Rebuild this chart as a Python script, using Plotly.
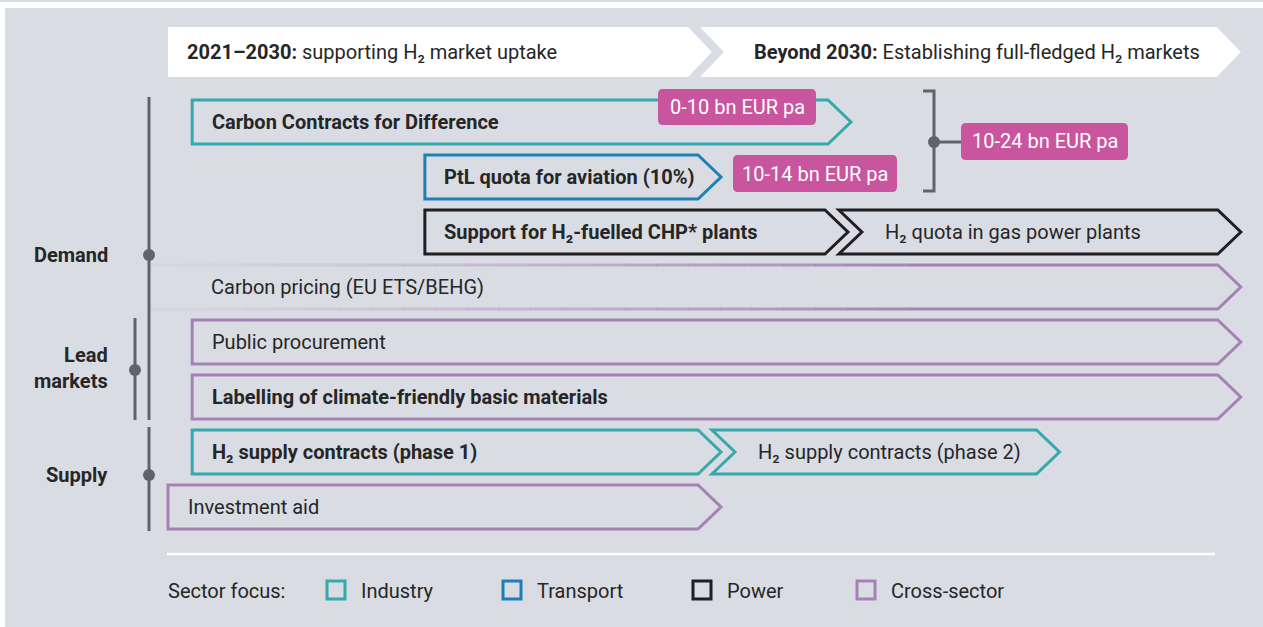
import plotly.graph_objects as go

W, H = 1263, 627
PX_PER_YEAR = 60.44
PX_PER_ROW = 55.0

# ---------------- data ----------------
phase_bold = ["2021–2030:", "Beyond 2030:"]
phase_text = [" supporting H₂ market uptake", " Establishing full-fledged H₂ markets"]
phase_start = [2021.0, 2029.8]
phase_end = [2030.0, 2038.75]

measure_labels = [
    "Carbon Contracts for Difference",
    "PtL quota for aviation (10%)",
    "Support for H₂-fuelled CHP* plants",
    "H₂ quota in gas power plants",
    "Carbon pricing (EU ETS/BEHG)",
    "Public procurement",
    "Labelling of climate-friendly basic materials",
    "H₂ supply contracts (phase 1)",
    "H₂ supply contracts (phase 2)",
    "Investment aid",
]
measure_row = [0, 1, 2, 2, 3, 4, 5, 6, 6, 7]
measure_start = [2021.4, 2025.25, 2025.25, 2032.1, 2020.7, 2021.4, 2021.4, 2021.4, 2030.0, 2021.0]
measure_end = [2032.3, 2030.15, 2032.25, 2038.75, 2038.75, 2038.75, 2038.75, 2030.15, 2035.75, 2030.15]
measure_sector = ["Industry", "Transport", "Power", "Power", "Cross-sector", "Cross-sector",
                  "Cross-sector", "Industry", "Industry", "Cross-sector"]
measure_bold = [True, True, True, False, False, False, True, True, False, False]
measure_follow_on = [False, False, False, True, False, False, False, False, True, False]
measure_fade_in = [False, False, False, False, True, False, False, False, False, False]

cost_labels = ["0-10 bn EUR pa", "10-14 bn EUR pa", "10-24 bn EUR pa"]

groups = ["Demand", "Lead<br>markets", "Supply"]

sectors = ["Industry", "Transport", "Power", "Cross-sector"]
sector_colors = {"Industry": "#35A9AC", "Transport": "#1D80B8", "Power": "#231F20", "Cross-sector": "#A681B6"}

# ---------------- styling ----------------
BG = "#D9DCE3"
TXT = "#262626"
GREY = "#626365"
PINK = "#C9559F"
FONT = "Roboto"
FS = 20

X_MIN = 2021.0 - 168 / PX_PER_YEAR
X_MAX = X_MIN + W / PX_PER_YEAR
Y_MIN = -122 / PX_PER_ROW
Y_MAX = Y_MIN + H / PX_PER_ROW


def dx(px):
    return px / PX_PER_YEAR


def dy(px):
    return px / PX_PER_ROW


def pxx(px):
    return px / W


def pyy(py):
    return 1 - py / H


shapes = []
annotations = []

# background
shapes.append(dict(type="rect", xref="paper", yref="paper", x0=pxx(5), x1=1, y0=0, y1=pyy(8),
                   fillcolor=BG, line=dict(width=0), layer="below"))
shapes.append(dict(type="rect", xref="paper", yref="paper", x0=0, x1=1, y0=pyy(2), y1=1,
                   fillcolor=BG, line=dict(width=0), layer="below"))


def chevron_path(x0, x1, yc, hh, depth, notch, open_left=False):
    xr = x1 - depth
    p = f"M {x0},{yc-hh} L {xr},{yc-hh} L {x1},{yc} L {xr},{yc+hh} L {x0},{yc+hh}"
    if open_left:
        return p
    if notch:
        p += f" L {x0+depth},{yc}"
    return p + " Z"


# phase header chevrons
hy = dy(52 - 122)
for i in range(2):
    shapes.append(dict(type="path", xref="x", yref="y",
                       path=chevron_path(phase_start[i], phase_end[i], hy, dy(25), dx(24), i > 0),
                       fillcolor="white", line=dict(width=0)))
    tx = phase_start[i] + (dx(52) if i > 0 else dx(17))
    annotations.append(dict(x=tx, y=hy, xref="x", yref="y", xanchor="left", yanchor="middle",
                            text=f"<b>{phase_bold[i]}</b>{phase_text[i]}", showarrow=False,
                            font=dict(family=FONT, size=FS, color=TXT)))

# measures
HH = dy(22)
DEPTH = dx(23)
for i, lab in enumerate(measure_labels):
    col = sector_colors[measure_sector[i]]
    yc = measure_row[i]
    x0, x1 = measure_start[i], measure_end[i]
    if measure_fade_in[i]:
        solid_from = x0 + dx(760)
        shapes.append(dict(type="path", xref="x", yref="y",
                           path=chevron_path(solid_from, x1, yc, HH, DEPTH, False, open_left=True),
                           line=dict(color=col, width=3)))
        n = 24
        step = (solid_from - x0) / n
        for k in range(n):
            a = 0.04 + 0.9 * ((k + 1) / n) ** 1.3
            for yy in (yc - HH, yc + HH):
                shapes.append(dict(type="line", xref="x", yref="y", x0=x0 + k * step, x1=x0 + (k + 1) * step + 0.01,
                                   y0=yy, y1=yy, line=dict(color=col, width=3), opacity=a))
        tx = 2021.4 + dx(17)
    elif measure_follow_on[i]:
        shapes.append(dict(type="path", xref="x", yref="y",
                           path=chevron_path(x0, x1, yc, HH, DEPTH, True),
                           line=dict(color=col, width=3)))
        tx = x0 + dx(44)
    else:
        shapes.append(dict(type="path", xref="x", yref="y",
                           path=chevron_path(x0, x1, yc, HH, DEPTH, False),
                           line=dict(color=col, width=3)))
        tx = x0 + dx(17.5)
    txt = f"<b>{lab}</b>" if measure_bold[i] else lab
    annotations.append(dict(x=tx, y=yc, xref="x", yref="y", xanchor="left", yanchor="middle",
                            text=txt, showarrow=False, font=dict(family=FONT, size=FS, color=TXT)))


def rounded_rect(x0, y0, x1, y1, r):
    X = pxx
    Y = pyy
    return (f"M {X(x0+r)},{Y(y0)} L {X(x1-r)},{Y(y0)} Q {X(x1)},{Y(y0)} {X(x1)},{Y(y0+r)} "
            f"L {X(x1)},{Y(y1-r)} Q {X(x1)},{Y(y1)} {X(x1-r)},{Y(y1)} L {X(x0+r)},{Y(y1)} "
            f"Q {X(x0)},{Y(y1)} {X(x0)},{Y(y1-r)} L {X(x0)},{Y(y0+r)} Q {X(x0)},{Y(y0)} {X(x0+r)},{Y(y0)} Z")


cost_boxes = [(658, 89, 816, 125), (733, 155, 897, 192), (961, 123, 1128, 160)]

# bracket grouping the two cost estimates
shapes.append(dict(type="path", xref="paper", yref="paper",
                   path=f"M {pxx(923)},{pyy(91)} L {pxx(934)},{pyy(91)} L {pxx(934)},{pyy(191)} L {pxx(923)},{pyy(191)}",
                   line=dict(color=GREY, width=3)))
shapes.append(dict(type="line", xref="paper", yref="paper", x0=pxx(934), x1=pxx(962), y0=pyy(142), y1=pyy(142),
                   line=dict(color=GREY, width=3)))
shapes.append(dict(type="circle", xref="paper", yref="paper", x0=pxx(928), x1=pxx(940), y0=pyy(136), y1=pyy(148),
                   fillcolor=GREY, line=dict(width=0)))

for lab, (bx0, by0, bx1, by1) in zip(cost_labels, cost_boxes):
    shapes.append(dict(type="path", xref="paper", yref="paper", path=rounded_rect(bx0, by0, bx1, by1, 5),
                       fillcolor=PINK, line=dict(width=0)))
    annotations.append(dict(x=pxx((bx0 + bx1) / 2), y=pyy((by0 + by1) / 2), xref="paper", yref="paper",
                            xanchor="center", yanchor="middle", text=lab, showarrow=False,
                            font=dict(family=FONT, size=FS, color="white")))

# group brackets on the left
shapes.append(dict(type="line", xref="paper", yref="paper", x0=pxx(149), x1=pxx(149), y0=pyy(97), y1=pyy(420),
                   line=dict(color=GREY, width=3)))
shapes.append(dict(type="line", xref="paper", yref="paper", x0=pxx(135), x1=pxx(135), y0=pyy(318), y1=pyy(420),
                   line=dict(color=GREY, width=3)))
shapes.append(dict(type="line", xref="paper", yref="paper", x0=pxx(149), x1=pxx(149), y0=pyy(427), y1=pyy(531),
                   line=dict(color=GREY, width=3)))
group_dots = [(149, 255), (135, 370), (149, 475)]
for g, (gx, gy) in zip(groups, group_dots):
    shapes.append(dict(type="circle", xref="paper", yref="paper", x0=pxx(gx - 6), x1=pxx(gx + 6),
                       y0=pyy(gy - 6), y1=pyy(gy + 6), fillcolor=GREY, line=dict(width=0)))
    ly = gy - 2 if "<br>" in g else gy
    annotations.append(dict(x=pxx(110), y=pyy(ly), xref="paper", yref="paper", xanchor="right",
                            yanchor="middle", align="right", text=f"<b>{g}</b>", showarrow=False,
                            font=dict(family=FONT, size=FS, color=TXT)))

# separator
shapes.append(dict(type="line", xref="paper", yref="paper", x0=pxx(167), x1=pxx(1215), y0=pyy(554), y1=pyy(554),
                   line=dict(color="white", width=2.5)))

# legend
annotations.append(dict(x=pxx(166), y=pyy(591), xref="paper", yref="paper", xanchor="left", yanchor="middle",
                        text="Sector focus:", showarrow=False, font=dict(family=FONT, size=FS, color=TXT)))
legend_x = [327, 503, 693, 857]
for s, lx in zip(sectors, legend_x):
    shapes.append(dict(type="rect", xref="paper", yref="paper", x0=pxx(lx), x1=pxx(lx + 18),
                       y0=pyy(581), y1=pyy(599), line=dict(color=sector_colors[s], width=3)))
    annotations.append(dict(x=pxx(lx + 32), y=pyy(591), xref="paper", yref="paper", xanchor="left",
                            yanchor="middle", text=s, showarrow=False,
                            font=dict(family=FONT, size=FS, color=TXT)))

fig = go.Figure()
fig.update_layout(
    width=W, height=H, margin=dict(l=0, r=0, t=0, b=0),
    paper_bgcolor="white", plot_bgcolor="rgba(0,0,0,0)",
    xaxis=dict(range=[X_MIN, X_MAX], visible=False, fixedrange=True),
    yaxis=dict(range=[Y_MAX, Y_MIN], visible=False, fixedrange=True),
    shapes=shapes, annotations=annotations, showlegend=False,
    font=dict(family=FONT),
)
fig.write_html("out.html", config={"displayModeBar": False},
               post_script="document.body.style.margin='0';document.body.style.overflow='hidden';")
